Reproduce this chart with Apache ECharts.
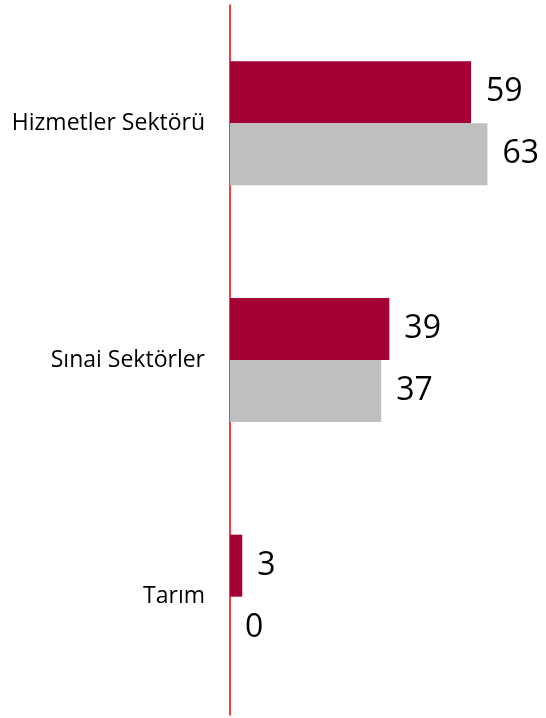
<!DOCTYPE html>
<html>
<head>
<meta charset="utf-8">
<script src="https://cdn.jsdelivr.net/npm/echarts@6/dist/echarts.min.js"></script>
<style>
  html, body { margin: 0; padding: 0; background: #fff; }
  #chart { width: 546px; height: 718px; }
</style>
</head>
<body>
<div id="chart"></div>
<script>
// kategoriler (yukaridan asagiya)
var categories = ['Hizmetler Sektörü', 'Sınai Sektörler', 'Tarım'];
// kirmizi seri
var redValues = [59, 39, 3];
// gri seri
var greyValues = [63, 37, 0];

var chart = echarts.init(document.getElementById('chart'));

var labelStyle = {
    show: true,
    position: 'right',
    distance: 15,
    fontSize: 32,
    fontFamily: 'Open Sans',
    color: '#000'
};

var option = {
    animation: false,
    grid: { left: 230, right: 30, top: 5, bottom: 3 },
    xAxis: {
        type: 'value',
        min: 0,
        max: 70,
        show: false
    },
    yAxis: {
        type: 'category',
        data: categories,
        inverse: true,
        axisLine: { show: true, lineStyle: { color: '#f00000', width: 1.5 } },
        axisTick: { show: false },
        axisLabel: {
            fontSize: 23,
            fontFamily: 'Open Sans',
            color: '#000',
            margin: 25
        }
    },
    series: [
        {
            name: 'seri1',
            type: 'bar',
            data: redValues,
            barGap: 0,
            barCategoryGap: '47.6%',
            itemStyle: { color: '#a50034' },
            label: labelStyle
        },
        {
            name: 'seri2',
            type: 'bar',
            data: greyValues,
            itemStyle: { color: '#bfbfbf' },
            label: labelStyle
        }
    ]
};
chart.setOption(option);
</script>
</body>
</html>
